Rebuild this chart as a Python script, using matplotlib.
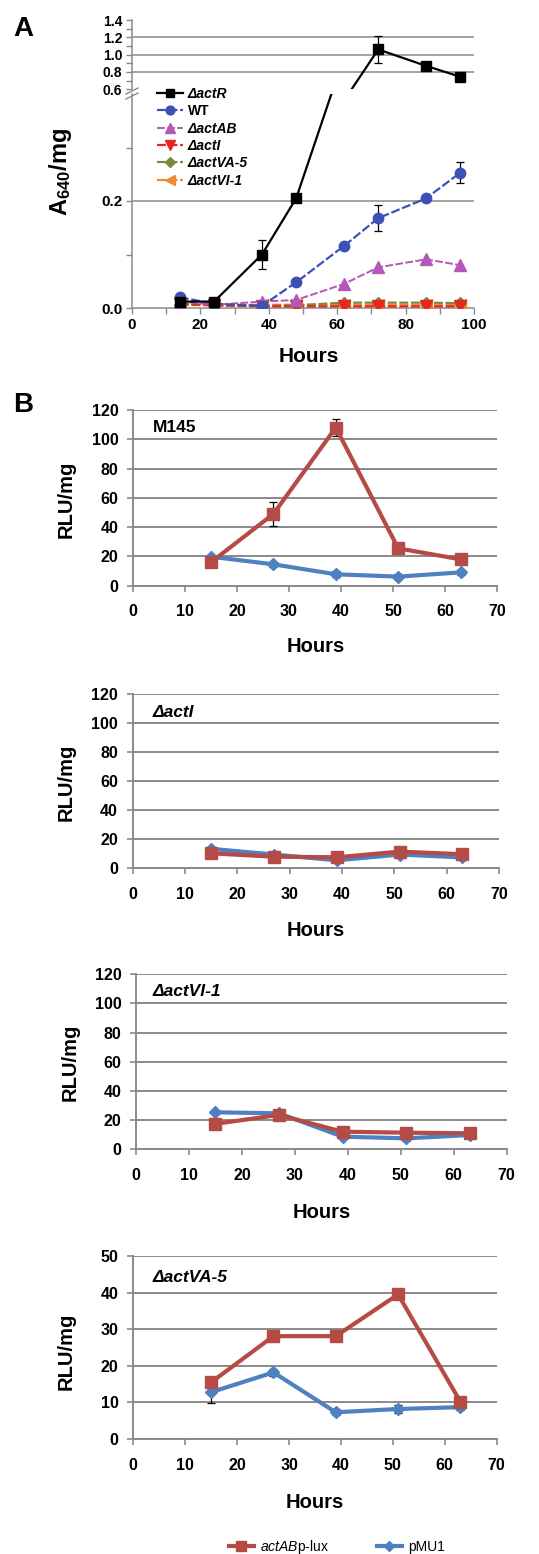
import matplotlib
matplotlib.use('Agg')
import matplotlib.pyplot as plt
from matplotlib.lines import Line2D

plt.rcParams['font.family'] = ['Liberation Sans', 'DejaVu Sans']
plt.rcParams['mathtext.fontset'] = 'custom'
plt.rcParams['mathtext.rm'] = 'Liberation Sans'
plt.rcParams['mathtext.it'] = 'Liberation Sans:italic'
plt.rcParams['mathtext.bf'] = 'Liberation Sans:bold'

# ---------------- Panel A data ----------------
hours_a = [14, 24, 38, 48, 62, 72, 86, 96]
actR = [0.012, 0.012, 0.100, 0.205, 0.47, 1.06, 0.87, 0.745]
actR_err = [0.002, 0.002, 0.027, 0.006, 0.0, 0.16, 0.015, 0.015]
wt = [0.020, 0.008, 0.004, 0.048, 0.116, 0.168, 0.205, 0.253]
wt_err = [0.003, 0.001, 0.001, 0.004, 0.006, 0.025, 0.004, 0.020]
actAB = [0.012, 0.006, 0.012, 0.015, 0.045, 0.076, 0.091, 0.080]
actI_a = [0.008, 0.005, 0.003, 0.003, 0.003, 0.003, 0.003, 0.003]
actVA5_a = [0.006, 0.006, 0.004, 0.005, 0.010, 0.010, 0.010, 0.009]
actVI1_a = [0.006, 0.005, 0.006, 0.006, 0.006, 0.006, 0.006, 0.006]

strain_labels = ['ΔactR', 'WT', 'ΔactAB', 'ΔactI', 'ΔactVA-5', 'ΔactVI-1']

# ---------------- Panel B data ----------------
hours_b = [15, 27, 39, 51, 63]
b_titles = ['M145', 'ΔactI', 'ΔactVI-1', 'ΔactVA-5']
lux_m145 = [16, 49, 108, 25.5, 18]
lux_m145_err = [1.5, 8, 6, 1.5, 1.5]
pmu_m145 = [19.8, 14.6, 7.8, 6.2, 9.1]
pmu_m145_err = [1.0, 1.5, 2.0, 1.5, 1.5]
lux_actI = [10.3, 8.0, 7.6, 11.5, 9.7]
lux_actI_err = [1.0, 1.0, 1.0, 1.0, 1.0]
pmu_actI = [13.4, 9.5, 5.5, 9.5, 7.5]
pmu_actI_err = [1.0, 1.0, 1.0, 1.0, 1.0]
lux_actVI1 = [17.3, 23.4, 11.9, 11.2, 10.8]
lux_actVI1_err = [1.0, 1.0, 1.0, 1.0, 1.0]
pmu_actVI1 = [25.2, 24.5, 8.5, 7.3, 9.6]
pmu_actVI1_err = [1.0, 1.0, 1.5, 1.5, 1.0]
lux_actVA5 = [15.5, 28.1, 28.1, 39.5, 10.2]
lux_actVA5_err = [0.5, 0.5, 0.5, 0.5, 1.0]
pmu_actVA5 = [12.8, 18.2, 7.3, 8.2, 8.7]
pmu_actVA5_err = [3.0, 1.0, 0.8, 1.0, 0.8]
series_labels = ['actABp-lux', 'pMU1']

W, H = 539, 1554
fig = plt.figure(figsize=(W / 100, H / 100), dpi=100)

GRAY = '#8a8a8a'


def fbox(x0, x1, ytop, ybot):
    return [x0 / W, 1 - ybot / H, (x1 - x0) / W, (ybot - ytop) / H]


# ---------------- Panel A ----------------
axl = fig.add_axes(fbox(132, 474, 94, 308))
axu = fig.add_axes(fbox(132, 474, 20, 89.3))

styles = [
    dict(color='black', marker='s', ms=7.5, ls='-', lw=1.6),
    dict(color='#3d50b6', marker='o', ms=7.5, ls=(0, (4, 1.2)), lw=1.6),
    dict(color='#b457b6', marker='^', ms=8, ls=(0, (4, 1.2)), lw=1.4),
    dict(color='#e5271f', marker='v', ms=8, ls=(0, (4, 1.2)), lw=1.6),
    dict(color='#7b8a38', marker='D', ms=6, ls=(0, (4, 1.2)), lw=1.6),
    dict(color='#ee8a2c', marker='<', ms=8, ls=(0, (4, 1.2)), lw=1.6),
]
series_a = [actR, wt, actAB, actI_a, actVA5_a, actVI1_a]
errs_a = [actR_err, wt_err, None, None, None, None]

order = [5, 4, 3, 2, 1, 0]
handles = [None] * 6
for ax in (axl, axu):
    for i in order:
        st = styles[i]
        if errs_a[i] is not None:
            ax.errorbar(hours_a, series_a[i], yerr=errs_a[i], fmt='none',
                        ecolor='black', elinewidth=0.9, capsize=3, capthick=0.9,
                        zorder=2)
        ln, = ax.plot(hours_a, series_a[i], color=st['color'], marker=st['marker'],
                      ms=st['ms'], ls=st['ls'], lw=st['lw'], mec=st['color'],
                      zorder=3 + (6 - i), label=strain_labels[i])
        handles[i] = ln

axl.set_xlim(0, 100)
axu.set_xlim(0, 100)
axl.set_ylim(0, 0.4)
axu.set_ylim(0.6, 1.4)
axl.set_yticks([0.0, 0.2])
axl.set_yticklabels(['0.0', '0.2'])
axl.set_yticks([0.1, 0.3], minor=True)
axu.set_yticks([0.6, 0.8, 1.0, 1.2, 1.4])
axu.set_yticklabels(['0.6', '0.8', '1.0', '1.2', '1.4'])
axu.set_yticks([0.7, 0.9, 1.1, 1.3], minor=True)
axl.set_xticks([0, 20, 40, 60, 80, 100])
axl.set_xticks([10, 30, 50, 70, 90], minor=True)
axu.set_xticks([])

for ax in (axl, axu):
    ax.spines['top'].set_visible(False)
    ax.spines['right'].set_visible(False)
    ax.spines['left'].set_color(GRAY)
    ax.spines['bottom'].set_color(GRAY)
    ax.spines['left'].set_linewidth(1.1)
    ax.spines['bottom'].set_linewidth(1.1)
    ax.tick_params(axis='both', which='both', direction='out', length=4,
                   color=GRAY, width=1.0)
    ax.patch.set_alpha(0)
axu.spines['bottom'].set_visible(False)
axl.tick_params(axis='y', labelsize=11, pad=3)
axu.tick_params(axis='y', labelsize=10, pad=3)
axl.tick_params(axis='x', labelsize=11, pad=3)
for lab in axl.get_yticklabels() + axu.get_yticklabels() + axl.get_xticklabels():
    lab.set_fontweight('bold')

for yv in [0.2]:
    axl.axhline(yv, color=GRAY, lw=1.1, zorder=1)
for yv in [0.8, 1.0, 1.2]:
    axu.axhline(yv, color=GRAY, lw=1.1, zorder=1)

# axis break marks
for dy in (0, 5):
    fig.add_artist(Line2D([126 / W, 138 / W], [1 - (94 + dy) / H, 1 - (88 + dy) / H],
                          color=GRAY, lw=1.0))

leg = fig.legend(handles=handles, labels=strain_labels, loc='upper left',
                 bbox_to_anchor=(157 / W, 1 - 87 / H), frameon=False,
                 prop=dict(size=10, weight='bold'), handlelength=1.9,
                 handletextpad=0.3, labelspacing=0.24, borderaxespad=0,
                 borderpad=0, numpoints=1, markerscale=0.85)
for i, t in enumerate(leg.get_texts()):
    if i != 1:
        t.set_fontstyle('italic')

fig.text(60 / W, 1 - 172 / H, r'A$_{\mathbf{640}}$/mg', rotation=90,
         ha='center', va='center', fontsize=17, fontweight='bold')
fig.text(309 / W, 1 - 357 / H, 'Hours', ha='center', va='center',
         fontsize=15, fontweight='bold')
fig.text(23 / W, 1 - 29 / H, 'A', ha='center', va='center', fontsize=20,
         fontweight='bold')
fig.text(23 / W, 1 - 405 / H, 'B', ha='center', va='center', fontsize=20,
         fontweight='bold')

# ---------------- Panel B ----------------
RED = '#b64b46'
BLUE = '#4f80c1'
b_boxes = [(133, 497, 410, 585.7), (132.7, 499, 694.3, 868.3),
           (136, 506.7, 974.3, 1149), (133.3, 496.7, 1256, 1439)]
b_lux = [lux_m145, lux_actI, lux_actVI1, lux_actVA5]
b_lux_err = [lux_m145_err, lux_actI_err, lux_actVI1_err, lux_actVA5_err]
b_pmu = [pmu_m145, pmu_actI, pmu_actVI1, pmu_actVA5]
b_pmu_err = [pmu_m145_err, pmu_actI_err, pmu_actVI1_err, pmu_actVA5_err]
b_ylims = [(0, 120, 20), (0, 120, 20), (0, 120, 20), (0, 50, 10)]
b_title_y = [428, 712, 992, 1278]
b_ylabel = [(66, 499), (66, 782), (70, 1062), (66, 1351)]
b_hours = [(316, 647), (316, 931), (322, 1212), (315, 1503)]

leg_handles = None
for k in range(4):
    x0, x1, yt, yb = b_boxes[k]
    ax = fig.add_axes(fbox(x0, x1, yt, yb))
    lo, hi, step = b_ylims[k]
    ax.errorbar(hours_b, b_pmu[k], yerr=b_pmu_err[k], fmt='none', ecolor='black',
                elinewidth=0.9, capsize=3, capthick=0.9, zorder=3)
    hb, = ax.plot(hours_b, b_pmu[k], color=BLUE, lw=3, marker='D', ms=6.5,
                  mec=BLUE, zorder=4)
    ax.errorbar(hours_b, b_lux[k], yerr=b_lux_err[k], fmt='none', ecolor='black',
                elinewidth=0.9, capsize=3, capthick=0.9, zorder=5)
    hr, = ax.plot(hours_b, b_lux[k], color=RED, lw=3, marker='s', ms=8.5,
                  mec=RED, zorder=6)
    leg_handles = [hr, hb]
    ax.set_xlim(0, 70)
    ax.set_ylim(lo, hi)
    ax.set_xticks(range(0, 71, 10))
    ax.set_yticks(range(lo, hi + 1, step))
    ax.grid(axis='y', color=GRAY, lw=1.4)
    ax.set_axisbelow(True)
    for s in ('top', 'right'):
        ax.spines[s].set_visible(False)
    for s in ('left', 'bottom'):
        ax.spines[s].set_color(GRAY)
        ax.spines[s].set_linewidth(1.4)
    ax.tick_params(axis='both', direction='out', length=4.5, color=GRAY, width=1.2,
                   labelsize=11.5)
    ax.tick_params(axis='x', pad=9)
    ax.tick_params(axis='y', pad=6)
    for lab in ax.get_xticklabels() + ax.get_yticklabels():
        lab.set_fontweight('bold')
    ax.text(153 / W, 1 - b_title_y[k] / H, b_titles[k], transform=fig.transFigure,
            ha='left', va='center', fontsize=12.5, fontweight='bold',
            fontstyle='normal' if k == 0 else 'italic')
    fig.text(b_ylabel[k][0] / W, 1 - b_ylabel[k][1] / H, 'RLU/mg', rotation=90,
             ha='center', va='center', fontsize=14.5, fontweight='bold')
    fig.text(b_hours[k][0] / W, 1 - b_hours[k][1] / H, 'Hours', ha='center',
             va='center', fontsize=14.5, fontweight='bold')

fig.legend(handles=leg_handles,
           labels=[r'$\mathit{actAB}$p-lux', series_labels[1]],
           loc='center', bbox_to_anchor=(337 / W, 1 - 1547 / H), ncol=2,
           frameon=False, fontsize=10, handlelength=1.8, handletextpad=0.5,
           columnspacing=3.4, numpoints=1, markerscale=0.8)

fig.savefig('out.png', dpi=100)
